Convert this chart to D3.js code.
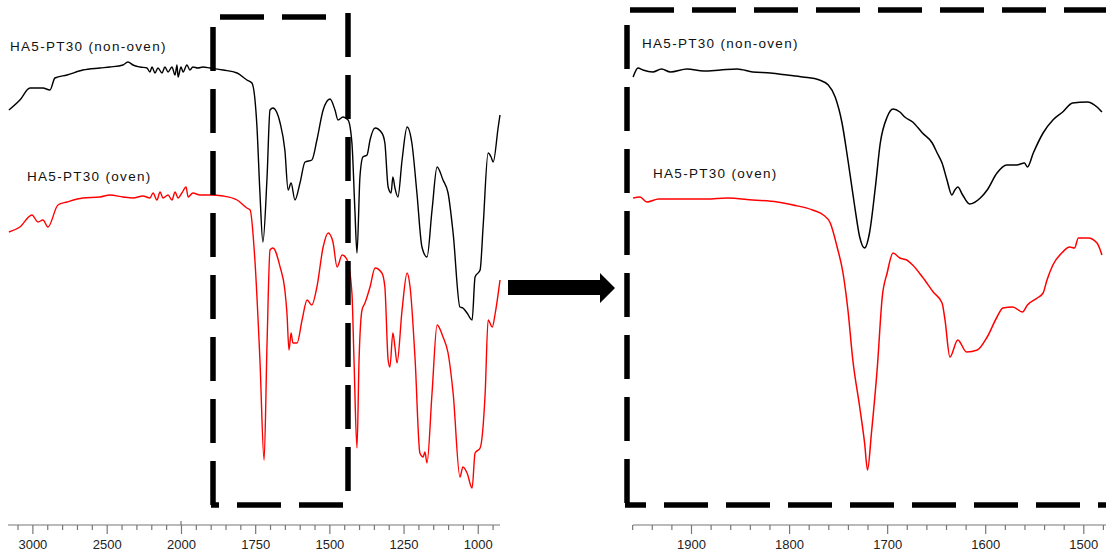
<!DOCTYPE html>
<html><head><meta charset="utf-8">
<script src="https://cdn.jsdelivr.net/npm/d3@7/dist/d3.min.js"></script>
<style>
body{margin:0;background:#fff;}
svg{display:block;}
text{font-family:"Liberation Sans",Arial,sans-serif;}
</style></head>
<body>
<svg id="c" width="1106" height="552"></svg>
<script>
// ---------- DATA (wavenumber cm-1, relative transmittance) ----------
const fullNonOven = [
 [3158,82],[3084,84],[3016,86.4],[2929,86.4],[2882,86],[2848,88.4],[2767,89],[2660,90],[2545,90.4],
 [2478,90.6],[2390,91],[2357,91.6],[2323,91],[2276,90.6],[2229,90.4],[2209,89.6],[2195,90.6],[2175,89.4],
 [2155,90.4],[2128,89.4],[2108,90.6],[2087,89.6],[2061,90.6],[2040,89],[2027,91],[2020,88.6],[2000,90.6],
 [1993,89.6],[1980,91],[1970,90],[1960,90.6],[1943,90.4],[1926,90.6],[1902,90.4],[1858,90],[1811,89.4],
 [1778,88],[1761,87.4],[1744,78.6],[1734,65.4],[1724,55.6],[1710,68.6],[1700,82],[1690,82.4],[1666,79.4],
 [1650,74],[1639,66],[1629,67.4],[1616,64],[1599,67.4],[1582,71.6],[1559,72],[1542,76],[1521,82],
 [1498,84.2],[1481,82],[1471,80],[1454,80.6],[1437,80],[1424,75.4],[1414,62],[1407,53.4],[1397,68.6],
 [1387,72.6],[1373,73],[1363,76],[1346,78.4],[1323,77.4],[1313,75.4],[1302,66.6],[1292,65.4],[1286,68.6],
 [1279,66.4],[1269,64.6],[1255,72],[1238,78.6],[1222,75.4],[1205,65.4],[1188,54.6],[1171,52.6],[1154,62],
 [1137,70.6],[1117,68],[1100,65.4],[1083,57.4],[1060,42.6],[1050,42.4],[1036,41.4],[1019,40],[1009,48.6],
 [992,50],[982,58.6],[965,73.4],[955,72.6],[948,71.6],[931,78.6],[925,81]
];
const fullOven = [
 [3158,57.6],[3084,58.6],[3003,61],[2962,59.6],[2929,60],[2895,58.6],[2828,63],[2767,63.6],[2660,64.4],
 [2545,64.6],[2478,65],[2390,64.6],[2323,64.4],[2256,64.8],[2209,64.4],[2188,65.4],[2162,64],[2141,65.6],
 [2121,64.4],[2087,65],[2061,64],[2040,65.6],[2020,64.4],[1997,65.4],[1983,66.6],[1976,64.6],[1960,65.4],
 [1936,65],[1902,65],[1858,64.8],[1811,64],[1778,62.4],[1767,62],[1751,52],[1734,32],[1720,12],
 [1710,35.4],[1700,54],[1690,54.4],[1666,50.6],[1650,46],[1643,41.4],[1636,34],[1629,37.4],[1623,35.4],
 [1609,35.4],[1592,40],[1575,44],[1559,43],[1542,46.6],[1521,54.6],[1504,57.4],[1488,55.6],[1474,50.6],
 [1457,53],[1440,52],[1424,45.4],[1417,32],[1407,14.4],[1400,32],[1390,42],[1380,43.4],[1363,46.6],
 [1346,50.4],[1323,49.4],[1313,46.6],[1302,32],[1296,30.6],[1286,37.4],[1279,34.6],[1272,31.4],[1255,42],
 [1238,49.4],[1228,46.6],[1211,32],[1195,13.4],[1184,12.6],[1178,13.6],[1171,11.4],[1154,25.4],[1137,39],
 [1117,36.6],[1100,33.4],[1083,25.4],[1060,8.6],[1050,10.6],[1036,9.4],[1019,6.4],[1009,13.4],[992,14.4],
 [975,25.4],[965,40],[951,38.6],[941,41.4],[925,48]
];
const zoomNonOven = [
 [1959,88.6],[1954,90.4],[1949,90],[1939,89.6],[1930,90.2],[1921,89.6],[1904,90.2],[1887,89.8],[1870,90],
 [1853,90.2],[1837,89.6],[1819,89.4],[1802,89],[1786,88.6],[1769,88],[1760,87],[1753,84.6],[1746,79.4],
 [1740,72],[1733,62.6],[1728,56.6],[1723,54.4],[1718,57.4],[1712,66.6],[1707,75.4],[1700,80.6],[1694,82.2],
 [1687,81.6],[1682,80.6],[1674,79.6],[1664,77.4],[1654,75.4],[1649,73.4],[1644,71.4],[1639,68],[1634,65],
 [1631,66],[1628,66.6],[1623,65],[1616,63.2],[1605,64.4],[1598,66],[1588,69.4],[1578,71],[1568,71],
 [1560,71.4],[1557,70.6],[1551,73.4],[1541,77.4],[1531,80],[1521,81.6],[1511,83.4],[1496,83.6],[1486,82.6],[1481,81.6]
];
const zoomOven = [
 [1959,64.4],[1952,64.6],[1945,63.6],[1933,64.2],[1921,64.2],[1904,64.2],[1884,64.2],[1863,64.4],[1837,64],
 [1812,63.6],[1796,63],[1776,62],[1765,61],[1758,59.4],[1751,54.6],[1745,49.4],[1740,42],[1735,32],
 [1728,22.6],[1723,15.4],[1720,10],[1716,17.4],[1710,30.6],[1705,44.6],[1700,49.4],[1694,53.4],[1687,52.4],
 [1680,52],[1674,51],[1664,48.6],[1653,45.6],[1644,43.4],[1641,40],[1636,32.6],[1628,36],[1619,33.6],
 [1608,34],[1598,36.6],[1588,40.6],[1582,42.4],[1572,42.6],[1562,41.6],[1557,43],[1547,44.4],[1541,45.4],
 [1537,48],[1531,51],[1521,53.6],[1514,54.6],[1509,54.4],[1505,56.4],[1495,56.4],[1486,55.4],[1481,53]
];
const fullMajorTicks = [3000,2500,2000,1750,1500,1250,1000];
const fullMinorTicks = [3100,2900,2800,2700,2600,2400,2300,2200,2100,1950,1900,1850,1800,1700,1650,1600,1550,1450,1400,1350,1300,1200,1150,1100,1050,950];
const zoomMajorTicks = [1900,1800,1700,1600,1500];
const zoomMinorTicks = [1960,1940,1920,1880,1860,1840,1820,1780,1760,1740,1720,1680,1660,1640,1620,1580,1560,1540,1520,1480];
const labelNonOven = "HA5-PT30 (non-oven)";
const labelOven = "HA5-PT30 (oven)";

// ---------- SCALES ----------
const svg = d3.select("#c");
const y = d3.scaleLinear().domain([0,100]).range([520,20]);
const xFull = d3.scaleLinear().domain([3164,2000,925]).range([8,181,500]);
const xZoom = d3.scaleLinear().domain([1900,1500]).range([691,1083.3]);

function drawAxis(scale, majors, minors, x0, x1, yAxis){
  const g = svg.append("g").attr("transform",`translate(0,${yAxis})`);
  g.append("line").attr("x1",x0).attr("x2",x1).attr("stroke","#777").attr("stroke-width",1.2);
  const minorAxis = d3.axisBottom(scale).tickValues(minors).tickSize(5).tickFormat("");
  const gm = g.append("g").call(minorAxis);
  gm.select(".domain").remove();
  gm.selectAll(".tick line").attr("stroke","#777").attr("stroke-width",1.2);
  const majorAxis = d3.axisBottom(scale).tickValues(majors).tickSize(9).tickPadding(6).tickFormat(d3.format("d"));
  const gM = g.append("g").call(majorAxis);
  gM.select(".domain").remove();
  gM.selectAll(".tick line").attr("stroke","#777").attr("stroke-width",1.2);
  gM.selectAll(".tick text").attr("fill","#222").style("font-size","13px").attr("font-family","Liberation Sans, Arial, sans-serif");
  return g;
}
const axL = drawAxis(xFull, fullMajorTicks, fullMinorTicks, 8, 500, 525);
axL.append("line").attr("x1",xFull(2000)).attr("x2",xFull(2000)).attr("y1",-4).attr("y2",0).attr("stroke","#777").attr("stroke-width",1.2);
drawAxis(xZoom, zoomMajorTicks, zoomMinorTicks, 633, 1106, 525);

// ---------- LINES ----------
const lineFull = d3.line().x(d=>xFull(d[0])).y(d=>y(d[1])).curve(d3.curveMonotoneX);
const lineZoom = d3.line().x(d=>xZoom(d[0])).y(d=>y(d[1])).curve(d3.curveMonotoneX);
svg.append("path").datum(fullNonOven).attr("d",lineFull).attr("fill","none").attr("stroke","#000").attr("stroke-width",1.4);
svg.append("path").datum(fullOven).attr("d",lineFull).attr("fill","none").attr("stroke","#f00").attr("stroke-width",1.4);
svg.append("path").datum(zoomNonOven).attr("d",lineZoom).attr("fill","none").attr("stroke","#000").attr("stroke-width",1.5);
svg.append("path").datum(zoomOven).attr("d",lineZoom).attr("fill","none").attr("stroke","#f00").attr("stroke-width",1.5);

// ---------- LABELS ----------
function label(txt,x,yy){
  svg.append("text").attr("x",x).attr("y",yy).text(txt)
    .attr("fill","#111").style("font-size","13.5px").style("letter-spacing","1.3px");
}
label(labelNonOven,10,51);
label(labelOven,27,181);
label(labelNonOven,642,48);
label(labelOven,653,178);

// ---------- DASHED BOXES ----------
function dashLine(x1,y1,x2,y2,offset){
  svg.append("line").attr("x1",x1).attr("y1",y1).attr("x2",x2).attr("y2",y2)
    .attr("stroke","#000").attr("stroke-width",5.5).attr("stroke-dasharray","44 18")
    .attr("stroke-dashoffset",offset||0);
}
// left box
dashLine(220,17,330,17,0);
dashLine(213,27,213,505,0);
dashLine(348,13,348,495,0);
dashLine(211,505,350,505,36);
// right box
dashLine(630,10,1106,10,0);
dashLine(627,25,627,505,0);
dashLine(625,505,1106,505,23);

// ---------- ARROW ----------
svg.append("path")
  .attr("d","M508,280 L600,280 L600,273 L615,288 L600,303 L600,295 L508,295 Z")
  .attr("fill","#000");
</script>
</body></html>
